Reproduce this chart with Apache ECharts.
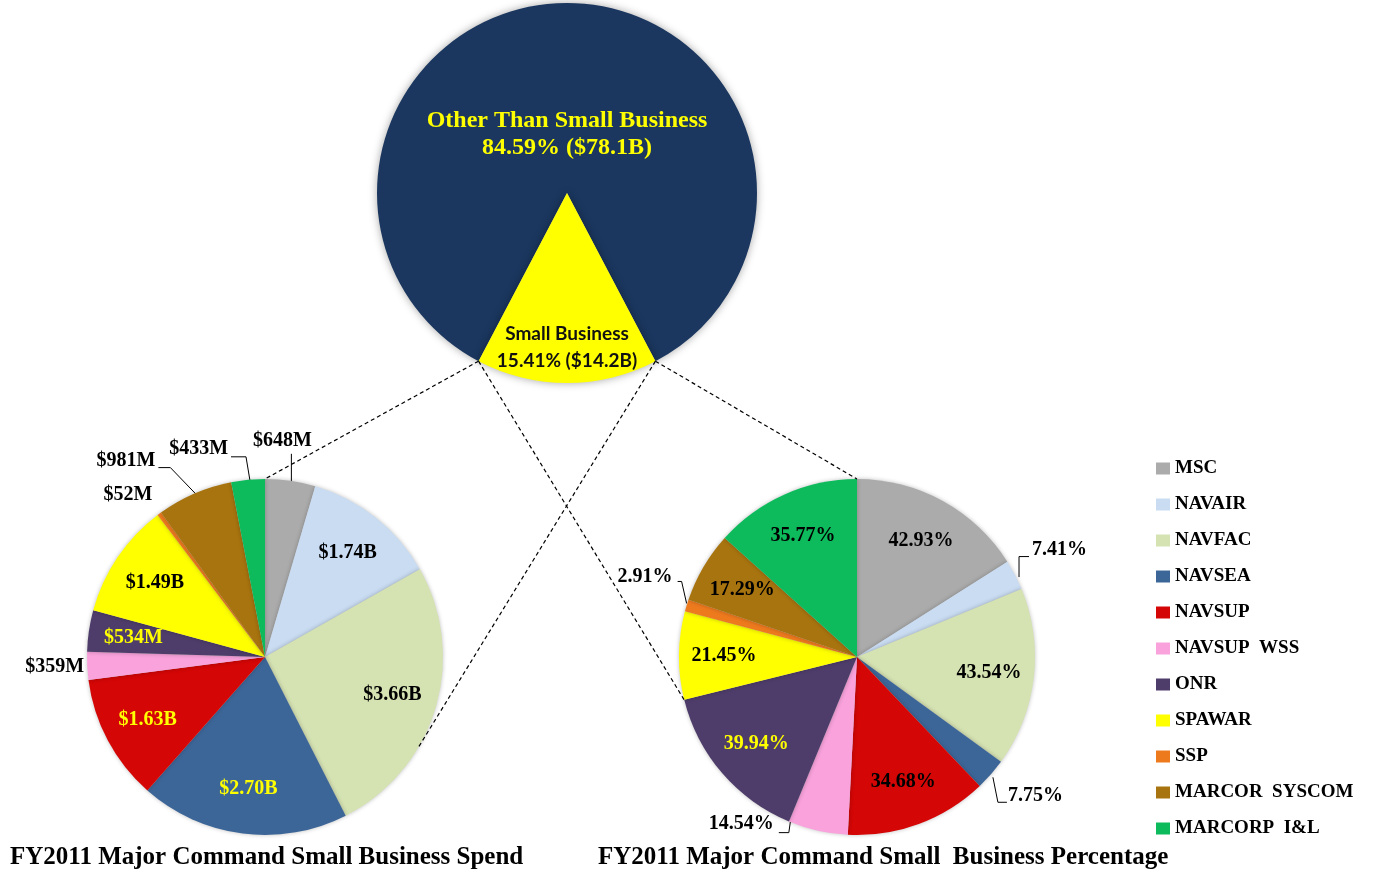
<!DOCTYPE html>
<html>
<head>
<meta charset="utf-8">
<script src="https://cdn.jsdelivr.net/npm/echarts@6/dist/echarts.min.js"></script>
<style>
html,body{margin:0;padding:0;background:#ffffff;}
#chart{width:1373px;height:879px;}
</style>
</head>
<body>
<div id="chart"></div>
<script>
// ---------------- data ----------------
const commands = ['MSC', 'NAVAIR', 'NAVFAC', 'NAVSEA', 'NAVSUP', 'NAVSUP  WSS', 'ONR', 'SPAWAR', 'SSP', 'MARCOR  SYSCOM', 'MARCORP  I&L'];
const spendBillions = [0.648, 1.74, 3.66, 2.70, 1.63, 0.359, 0.534, 1.49, 0.052, 0.981, 0.433];
const smallBusinessPercent = [42.93, 7.41, 43.54, 7.75, 34.68, 14.54, 39.94, 21.45, 2.91, 17.29, 35.77];
const totalNames = ['Other Than Small Business', 'Small Business'];
const totalPercent = [84.59, 15.41];
const totalDollars = ['$78.1B', '$14.2B'];
const chartTitles = ['FY2011 Major Command Small Business Spend', 'FY2011 Major Command Small  Business Percentage'];

// ---------------- styles / geometry ----------------
const DEG = Math.PI / 180;
const TOP = { cx: 567, cy: 193, r: 190 };
const LEFT = { cx: 265, cy: 657, r: 178 };
const RIGHT = { cx: 857, cy: 657, r: 178 };
const INNER_FRACTION = 0.46;
const serif = '"Liberation Serif", "Times New Roman", serif';
const sliceColors = ['#ABABAB', '#C9DCF2', '#D5E2B2', '#3D6698', '#D40606', '#F9A2DC', '#4E3D6A', '#FFFF00', '#EE7A1E', '#A8740F', '#0DBB5C'];
const topColors = ['#1B375F', '#FFFF00'];

function onCircle(g, bearing) {
  return [g.cx + g.r * Math.sin(bearing * DEG), g.cy - g.r * Math.cos(bearing * DEG)];
}
function midBearings(vals) {
  const s = vals.reduce((a, b) => a + b, 0);
  let c = 0;
  return vals.map(v => { const m = (c + v / 2) / s * 360; c += v; return m; });
}
const fmtSpend = v => v >= 1 ? '$' + v.toFixed(2) + 'B' : '$' + Math.round(v * 1000) + 'M';
const fmtPct = v => v.toFixed(2) + '%';

// callout placement, relative to the outer mid point of the slice
const leftCallouts = {
  0: { line: [[1, 2], [1, -27]], label: [-8, -40], align: 'center' },
  5: { label: [-3, 1], align: 'right' },
  8: { label: [-7, -19], align: 'right' },
  9: { line: [[2, 1], [-24, -26], [-36, -26]], label: [-39, -33], align: 'right' },
  10: { line: [[2, 1], [-2, -23], [-17, -23]], label: [-20, -31], align: 'right' }
};
const rightCallouts = {
  1: { line: [[4, 2], [4, -18.5], [14, -18.5]], label: [17, -25], align: 'left' },
  3: { line: [[2, 3], [7, 28], [16, 28]], label: [17, 22], align: 'left' },
  5: { line: [[-27, -12], [-29, 2], [-39, 2]], label: [-44, -7], align: 'right' },
  8: { line: [[0, -2], [-5, -24], [-9, -24]], label: [-14, -29], align: 'right' }
};
const leftYellowText = [3, 4, 6];
const rightYellowText = [6];

const labelFont = { fontFamily: serif, fontWeight: 'bold', fontSize: 20 };

function pieSeries(geom, values, fmt, callouts, yellowIdx) {
  const mids = midBearings(values);
  const visible = {
    type: 'pie', center: [geom.cx, geom.cy], radius: geom.r,
    startAngle: 90, clockwise: true, avoidLabelOverlap: false, silent: true,
    itemStyle: { borderWidth: 0, shadowBlur: 4, shadowColor: 'rgba(0,0,0,0.25)' },
    label: Object.assign({ show: true, position: 'outside', color: '#000', formatter: p => fmt(p.value) }, labelFont),
    labelLine: { show: true, smooth: false, length: 10, length2: 10, lineStyle: { color: '#000', width: 1 } },
    data: values.map((v, i) => ({
      name: commands[i], value: v,
      itemStyle: { color: sliceColors[i] },
      label: { show: !!callouts[i] },
      labelLine: { show: !!(callouts[i] && callouts[i].line) }
    })),
    labelLayout: function (p) {
      const c = callouts[p.dataIndex];
      if (!c) return {};
      const a = onCircle(geom, mids[p.dataIndex]);
      const out = { x: a[0] + c.label[0], y: a[1] + c.label[1], align: c.align, verticalAlign: 'middle' };
      if (c.line) out.labelLinePoints = c.line.map(d => [a[0] + d[0], a[1] + d[1]]);
      return out;
    }
  };
  const overlay = {
    type: 'pie', center: [geom.cx, geom.cy], radius: [geom.r * INNER_FRACTION, geom.r],
    startAngle: 90, clockwise: true, avoidLabelOverlap: false, silent: true,
    itemStyle: { color: 'rgba(0,0,0,0)', borderWidth: 0 },
    label: Object.assign({ show: true, position: 'inside', formatter: p => fmt(p.value) }, labelFont),
    labelLine: { show: false },
    data: values.map((v, i) => ({
      name: commands[i], value: v,
      label: { show: !callouts[i], color: yellowIdx.indexOf(i) >= 0 ? '#FFFF00' : '#000' }
    }))
  };
  return [visible, overlay];
}

const topStart = 90 - (180 + totalPercent[1] * 1.8);
const topFormatter = p => p.name + '\n' + p.value.toFixed(2) + '% (' + totalDollars[p.dataIndex] + ')';
const topLabelStyles = [
  { fontFamily: serif, fontWeight: 'bold', fontSize: 24, lineHeight: 27, color: '#FFFF00' },
  { fontFamily: 'Lato', fontWeight: 'bold', fontSize: 19, lineHeight: 27, color: '#111111' }
];
// label rings: inner ring carries the big-slice label, outer ring the small-slice label
const topLabelRings = [[0, 0.59], [0.62, 0.97]];
const topSeries = [{
  type: 'pie', center: [TOP.cx, TOP.cy], radius: TOP.r,
  startAngle: topStart, clockwise: true, silent: true, avoidLabelOverlap: false,
  itemStyle: { borderWidth: 0, shadowBlur: 8, shadowColor: 'rgba(0,0,0,0.35)' },
  label: { show: false }, labelLine: { show: false },
  data: totalNames.map((n, i) => ({ name: n, value: totalPercent[i], itemStyle: { color: topColors[i] } }))
}].concat(topLabelRings.map((ring, k) => ({
  type: 'pie', center: [TOP.cx, TOP.cy], radius: [TOP.r * ring[0], TOP.r * ring[1]],
  startAngle: topStart, clockwise: true, silent: true, avoidLabelOverlap: false,
  itemStyle: { color: 'rgba(0,0,0,0)', borderWidth: 0 },
  labelLine: { show: false },
  label: { show: true, position: 'inside', formatter: topFormatter },
  data: totalNames.map((n, i) => ({
    name: n, value: totalPercent[i],
    label: Object.assign({ show: i === k }, topLabelStyles[i])
  }))
})));

const leftCorner = onCircle(TOP, 180 + totalPercent[1] * 1.8);
const rightCorner = onCircle(TOP, 180 - totalPercent[1] * 1.8);
const connectors = [
  [leftCorner, onCircle(LEFT, 0)],
  [leftCorner, onCircle(RIGHT, 256)],
  [rightCorner, onCircle(RIGHT, 0)],
  [rightCorner, onCircle(LEFT, 121)]
];

const chart = echarts.init(document.getElementById('chart'), null, { renderer: 'canvas' });
chart.setOption({
  backgroundColor: '#ffffff',
  animation: false,
  title: chartTitles.map((t, i) => ({
    text: t, left: [10, 598][i], top: 845, padding: 0,
    textStyle: { fontFamily: serif, fontWeight: 'bold', fontSize: 25, color: '#000' }
  })),
  legend: {
    orient: 'vertical', left: 1156, top: 459, padding: 0,
    itemWidth: 14, itemHeight: 12, itemGap: 17, icon: 'rect',
    selectedMode: false,
    data: commands,
    textStyle: { fontFamily: serif, fontWeight: 'bold', fontSize: 19, color: '#000' }
  },
  graphic: connectors.map(([p, q]) => ({
    type: 'line', silent: true, z: 100,
    shape: { x1: p[0], y1: p[1], x2: q[0], y2: q[1] },
    style: { stroke: '#000', lineWidth: 1.2, lineDash: [4, 3] }
  })),
  series: topSeries
    .concat(pieSeries(LEFT, spendBillions, fmtSpend, leftCallouts, leftYellowText))
    .concat(pieSeries(RIGHT, smallBusinessPercent, fmtPct, rightCallouts, rightYellowText))
});
</script>
</body>
</html>
